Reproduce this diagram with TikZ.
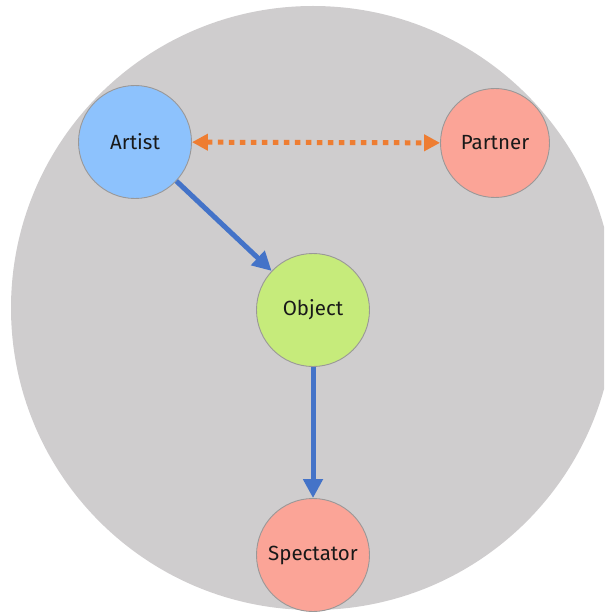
\documentclass[tikz,border=0pt]{standalone}
\usepackage{fontspec}
\setmainfont{Fira Sans}
\usetikzlibrary{arrows.meta}
\definecolor{discgray}{HTML}{CFCDCE}
\definecolor{rimgray}{HTML}{9A9898}
\definecolor{artistblue}{HTML}{8DC2FD}
\definecolor{salmon}{HTML}{FBA497}
\definecolor{lime}{HTML}{C6EB7B}
\definecolor{flowblue}{HTML}{4473C8}
\definecolor{linkorange}{HTML}{EE7D32}
\tikzset{
  role/.style={circle, draw=rimgray, line width=0.9pt, minimum size=113pt,
    inner sep=0pt, font=\fontsize{20.5}{24}\selectfont, text=black!90},
  flow/.style={draw=flowblue, line width=5pt,
    -{Triangle[length=19pt,width=19pt]}},
  link/.style={draw=linkorange, line width=5pt, dash pattern=on 5.5pt off 5.5pt,
    {Triangle[length=16pt,width=16pt]}-{Triangle[length=16pt,width=16pt]}}
}
\begin{document}
\begin{tikzpicture}[x=1pt,y=-1pt]
  \useasboundingbox (0,0) rectangle (604,612);
  \clip (0,0) rectangle (604,612);
  % surrounding disc
  \fill[discgray] (313,308) circle[radius=302];
  % participants
  \node[role, fill=artistblue] (artist) at (135,142) {Artist};
  \node[role, fill=salmon, minimum size=109pt] (partner) at (495,143) {Partner};
  \node[role, fill=lime] (object) at (313,310) {Object};
  \node[role, fill=salmon] (spectator) at (313,555) {Spectator};
  % relations
  \draw[link] (artist) -- (partner);
  \draw[flow] (artist) -- (object);
  \draw[flow] (object) -- (spectator);
\end{tikzpicture}
\end{document}
